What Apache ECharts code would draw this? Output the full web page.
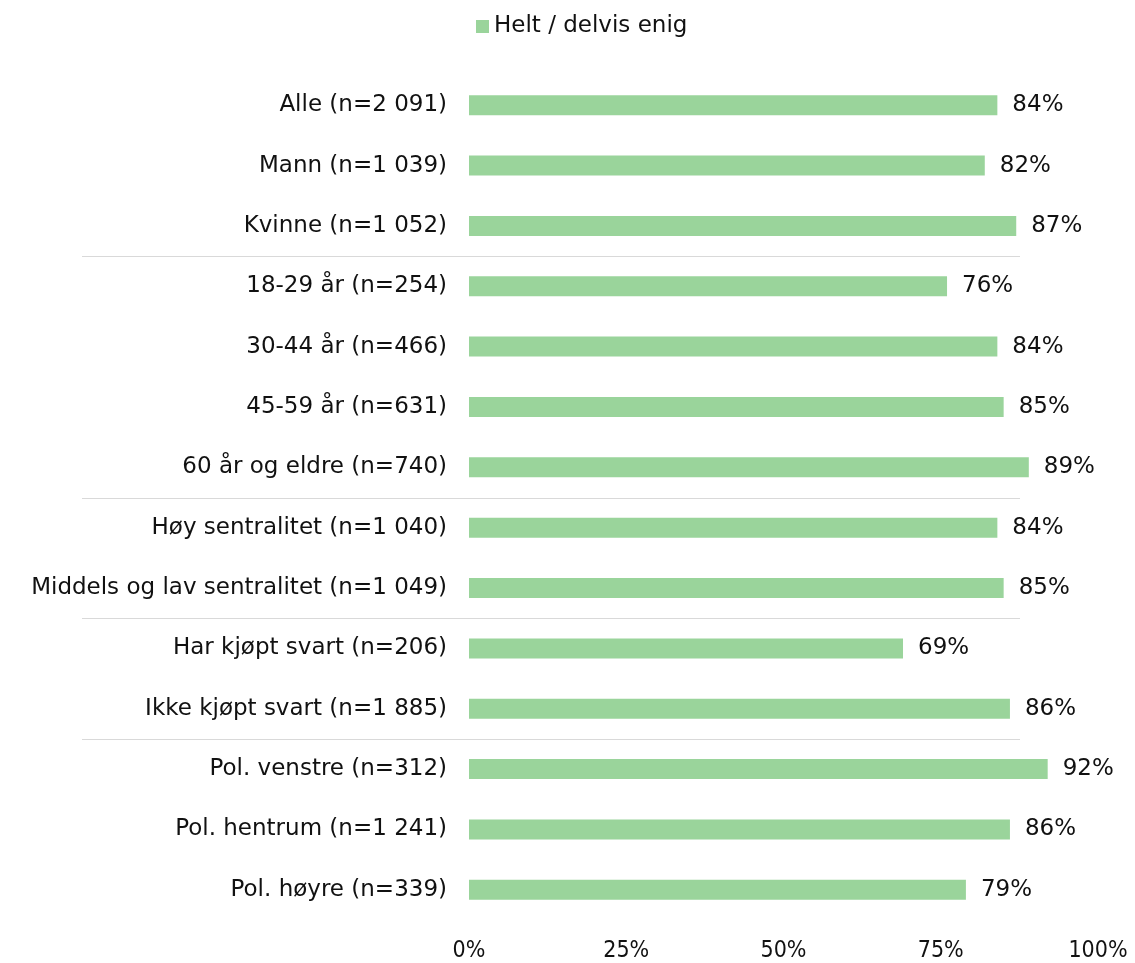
<!DOCTYPE html>
<html>
<head>
<meta charset="utf-8">
<script src="https://cdn.jsdelivr.net/npm/echarts@6/dist/echarts.min.js"></script>
<style>
  html, body { margin: 0; padding: 0; background: #fff; }
  #chart { width: 1135px; height: 963px; }
</style>
</head>
<body>
<div id="chart"></div>
<script>
// kategorier (ovenfra og ned)
const categories = [
  'Alle (n=2 091)',
  'Mann (n=1 039)',
  'Kvinne (n=1 052)',
  '18-29 år (n=254)',
  '30-44 år (n=466)',
  '45-59 år (n=631)',
  '60 år og eldre (n=740)',
  'Høy sentralitet (n=1 040)',
  'Middels og lav sentralitet (n=1 049)',
  'Har kjøpt svart (n=206)',
  'Ikke kjøpt svart (n=1 885)',
  'Pol. venstre (n=312)',
  'Pol. hentrum (n=1 241)',
  'Pol. høyre (n=339)'
]
const enigValues = [84, 82, 87, 76, 84, 85, 89, 84, 85, 69, 86, 92, 86, 79]
const seriesName = 'Helt / delvis enig'
// skillelinje etter disse indeksene
const groupBreaks = [2, 6, 8, 10]
const xTicks = [0, 25, 50, 75, 100]

const font = '"DejaVu Sans", Inter, sans-serif'
const chart = echarts.init(document.getElementById('chart'))

const option = {
  animation: false,
  legend: {
    top: 10,
    left: 471,
    itemWidth: 13,
    itemHeight: 13,
    itemGap: 6,
    icon: 'rect',
    textStyle: { fontFamily: font, fontSize: 23, color: '#111' },
    data: [seriesName]
  },
  grid: { left: 469, right: 37, top: 75, bottom: 43 },
  xAxis: {
    type: 'value',
    min: 0,
    max: 100,
    interval: 25,
    axisLine: { show: false },
    axisTick: { show: false },
    splitLine: { show: false },
    axisLabel: {
      formatter: v => xTicks.includes(v) ? v + '%' : '',
      fontFamily: '"Liberation Sans Narrow", "DejaVu Sans Condensed", sans-serif',
      fontSize: 23,
      color: '#111',
      margin: 20
    }
  },
  yAxis: {
    type: 'category',
    inverse: true,
    data: categories,
    axisLine: { show: false },
    axisTick: { show: false },
    axisLabel: { fontFamily: font, fontSize: 23, color: '#111', margin: 22 }
  },
  series: [{
    name: seriesName,
    type: 'bar',
    data: enigValues,
    barWidth: 20,
    itemStyle: { color: '#9AD49B' },
    label: {
      show: true,
      position: 'right',
      distance: 15,
      formatter: '{c}%',
      fontFamily: font,
      fontSize: 23,
      color: '#111'
    }
  }]
}
chart.setOption(option)

// skillelinjer mellom gruppene
const lines = groupBreaks.map(i => {
  const y0 = chart.convertToPixel({ yAxisIndex: 0 }, i)
  const y1 = chart.convertToPixel({ yAxisIndex: 0 }, i + 1)
  const y = Math.round((y0 + y1) / 2) + 0.5
  return {
    type: 'line',
    shape: { x1: 82, y1: y, x2: 1020, y2: y },
    style: { stroke: '#d9d9d9', lineWidth: 1 },
    silent: true
  }
})
chart.setOption({ graphic: lines })
</script>
</body>
</html>
